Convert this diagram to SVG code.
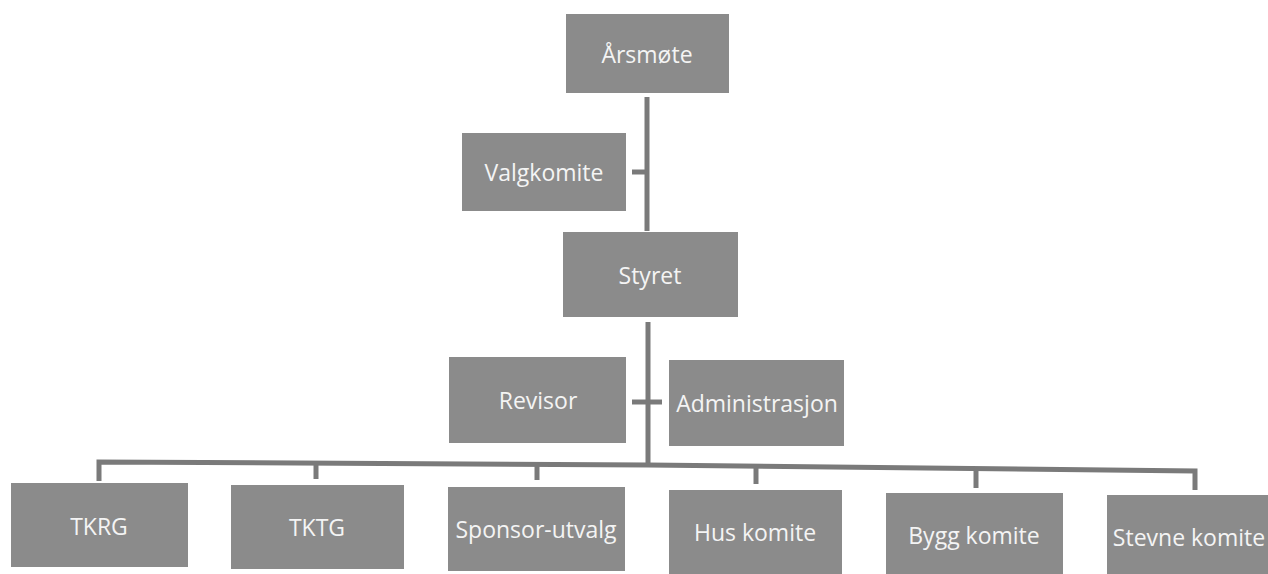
<svg xmlns="http://www.w3.org/2000/svg" width="1268" height="574" viewBox="0 0 1268 574">
<style>
.box{fill:#8b8b8b;}
.lbl{font-family:"Open Sans","Liberation Sans",sans-serif;font-size:23px;fill:#f4f4f4;text-anchor:middle;dominant-baseline:central;}
.con{stroke:#7a7a7a;stroke-width:5;fill:none;}
</style>
<rect width="1268" height="574" fill="#ffffff"/>
<g id="connectors">
<line class="con" x1="647" y1="97" x2="647" y2="231"/>
<line class="con" x1="632" y1="172" x2="647" y2="172"/>
<line class="con" x1="648" y1="322" x2="648" y2="464"/>
<line class="con" x1="632" y1="402" x2="662" y2="402"/>
<polyline class="con" points="99,481 99,462 648,465 1195,471 1195,490"/>
<line class="con" x1="316" y1="463" x2="316" y2="479"/>
<line class="con" x1="537" y1="464" x2="537" y2="480"/>
<line class="con" x1="756" y1="466" x2="756" y2="484"/>
<line class="con" x1="976" y1="469" x2="976" y2="488"/>
</g>
<g id="arsmote"><rect class="box" x="566" y="14" width="163" height="79"/><text class="lbl" x="647" y="54">Årsmøte</text></g>
<g id="valgkomite"><rect class="box" x="462" y="133" width="164" height="78"/><text class="lbl" x="544" y="172">Valgkomite</text></g>
<g id="styret"><rect class="box" x="563" y="232" width="175" height="85"/><text class="lbl" x="650" y="275">Styret</text></g>
<g id="revisor"><rect class="box" x="449" y="357" width="177" height="86"/><text class="lbl" x="538" y="400">Revisor</text></g>
<g id="administrasjon"><rect class="box" x="669" y="360" width="175" height="86"/><text class="lbl" x="757" y="403">Administrasjon</text></g>
<g id="tkrg"><rect class="box" x="11" y="483" width="177" height="84"/><text class="lbl" x="99" y="526">TKRG</text></g>
<g id="tktg"><rect class="box" x="231" y="485" width="173" height="84"/><text class="lbl" x="317" y="527">TKTG</text></g>
<g id="sponsor"><rect class="box" x="448" y="487" width="177" height="84"/><text class="lbl" x="536" y="529">Sponsor-utvalg</text></g>
<g id="hus"><rect class="box" x="669" y="490" width="173" height="84"/><text class="lbl" x="755" y="532">Hus komite</text></g>
<g id="bygg"><rect class="box" x="886" y="493" width="177" height="84"/><text class="lbl" x="974" y="535">Bygg komite</text></g>
<g id="stevne"><rect class="box" x="1107" y="495" width="170" height="84"/><text class="lbl" x="1189" y="537">Stevne komite</text></g>
</svg>
